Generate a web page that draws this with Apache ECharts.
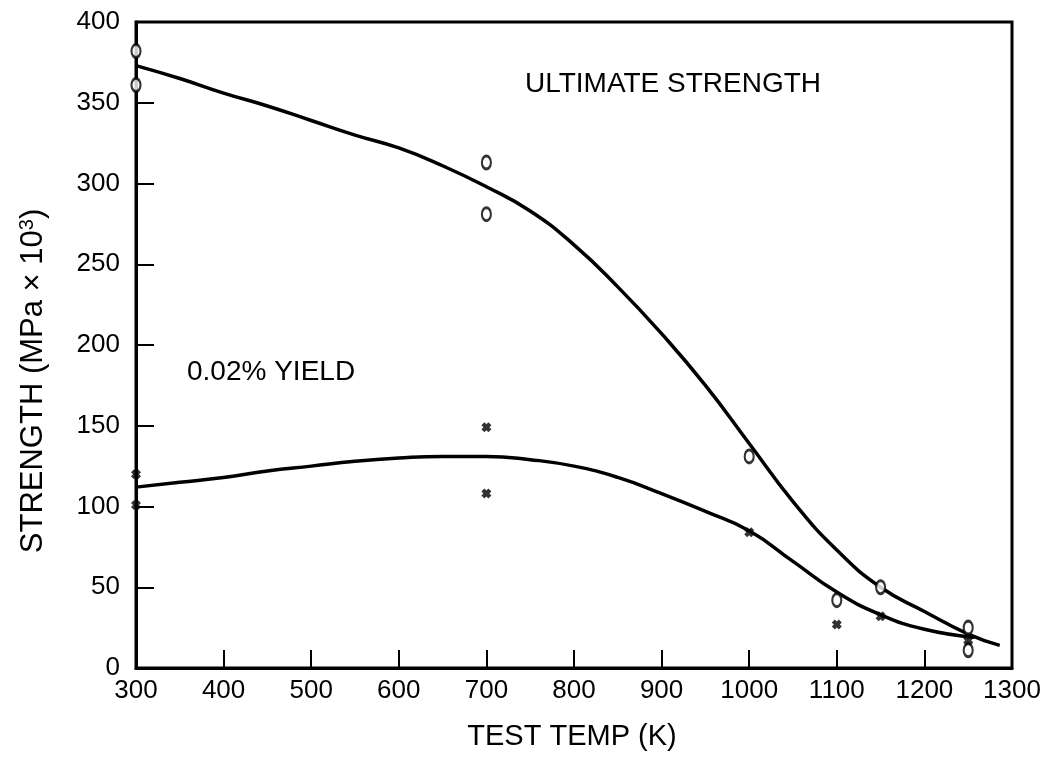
<!DOCTYPE html>
<html>
<head>
<meta charset="utf-8">
<script src="https://cdn.jsdelivr.net/npm/echarts@6/dist/echarts.min.js"></script>
<style>html,body{margin:0;padding:0;background:#fff}#c{width:1057px;height:759px}</style>
</head>
<body>
<div id="c"></div>
<script>
// Tick settings
var xTicks = [300, 400, 500, 600, 700, 800, 900, 1000, 1100, 1200, 1300];
var yTicks = [0, 50, 100, 150, 200, 250, 300, 350, 400];

// Ultimate strength measured points ("o")
var ultTemps = [300, 300, 700, 700, 1000, 1100, 1150, 1250, 1250];
var ultVals  = [382, 361, 313, 281, 131, 42, 50, 25, 11];

// 0.02% yield measured points ("x")
var yldTemps = [300, 300, 700, 700, 1000, 1100, 1150, 1250];
var yldVals  = [120, 101, 149, 108, 84, 27, 32, 17];

// Fitted curve: ultimate strength
var ultCurveX = [300, 350, 400, 450, 500, 550, 600, 650, 700, 750, 800, 850, 900, 950, 1000, 1050, 1100, 1150, 1200, 1250, 1286];
var ultCurveY = [373, 365, 356, 348, 339, 330, 322, 311, 298, 283, 262, 236, 207, 175, 139, 103, 73, 50, 35, 21, 14];

// Fitted curve: 0.02% yield
var yldCurveX = [300, 350, 400, 450, 500, 550, 600, 650, 700, 750, 800, 850, 900, 950, 1000, 1050, 1100, 1150, 1200, 1257];
var yldCurveY = [112, 115, 118, 122, 125, 128, 130, 131, 131, 129, 125, 118, 108, 97, 85, 66, 47, 33, 24, 19];

function pairs(xs, ys) { return xs.map(function (x, i) { return [x, ys[i]]; }); }

var FONT = 'Liberation Sans, Arial, Helvetica, sans-serif';
var chart = echarts.init(document.getElementById('c'));
var starPath = 'path://M0,3 L3,0 L5,2 L7,0 L10,3 L8,5 L10,7 L7,10 L5,8 L3,10 L0,7 L2,5 Z';

chart.setOption({
  animation: false,
  backgroundColor: '#fff',
  grid: { left: 136, right: 45, top: 22, bottom: 91, show: true, borderColor: '#000', borderWidth: 3, backgroundColor: 'transparent' },
  xAxis: {
    type: 'value', min: xTicks[0], max: xTicks[xTicks.length - 1], interval: 100,
    axisLine: { show: true, lineStyle: { color: '#000', width: 3 } },
    axisTick: { show: true, inside: true, length: 18, lineStyle: { color: '#000', width: 2 } },
    axisLabel: { color: '#000', fontSize: 26, fontFamily: FONT, margin: 10, formatter: function (v) { return String(v); } },
    splitLine: { show: false }
  },
  yAxis: {
    type: 'value', min: yTicks[0], max: yTicks[yTicks.length - 1], interval: 50,
    axisLine: { show: true, lineStyle: { color: '#000', width: 3 } },
    axisTick: { show: true, inside: true, length: 18, lineStyle: { color: '#000', width: 2 } },
    axisLabel: { color: '#000', fontSize: 26, fontFamily: FONT, margin: 16 },
    splitLine: { show: false }
  },
  graphic: [
    { type: 'text', left: 525, top: 70, style: { text: 'ULTIMATE STRENGTH', font: '28px ' + FONT, fill: '#000' } },
    { type: 'text', left: 187, top: 358, style: { text: '0.02% YIELD', font: '28px ' + FONT, fill: '#000' } },
    { type: 'text', x: 572, y: 737, style: { text: 'TEST TEMP (K)', font: '29px ' + FONT, fill: '#000', align: 'center', verticalAlign: 'middle' } },
    { type: 'text', x: 33, y: 381, rotation: Math.PI / 2,
      style: { text: '{a|STRENGTH (MPa × 10}{s|3}{a|)}', align: 'center', verticalAlign: 'middle', fill: '#000',
        rich: { a: { fontSize: 31, fontFamily: FONT, fill: '#000', verticalAlign: 'bottom', lineHeight: 32 },
                s: { fontSize: 20, fontFamily: FONT, fill: '#000', verticalAlign: 'top', lineHeight: 32 } } } }
  ],
  series: [
    { type: 'line', data: pairs(ultCurveX, ultCurveY), smooth: 0.5, showSymbol: false, symbol: 'none',
      lineStyle: { color: '#000', width: 3.5 }, z: 2 },
    { type: 'line', data: pairs(yldCurveX, yldCurveY), smooth: 0.5, showSymbol: false, symbol: 'none',
      lineStyle: { color: '#000', width: 3.5 }, z: 2 },
    { type: 'scatter', data: pairs(ultTemps, ultVals), symbol: 'circle', symbolSize: [9, 13],
      itemStyle: { color: '#fff', borderColor: '#000', borderWidth: 2.5 }, z: 4 },
    { type: 'scatter', data: pairs(yldTemps, yldVals), symbol: starPath, symbolSize: 10,
      itemStyle: { color: '#000' }, z: 5 }
  ]
});
</script>
</body>
</html>
